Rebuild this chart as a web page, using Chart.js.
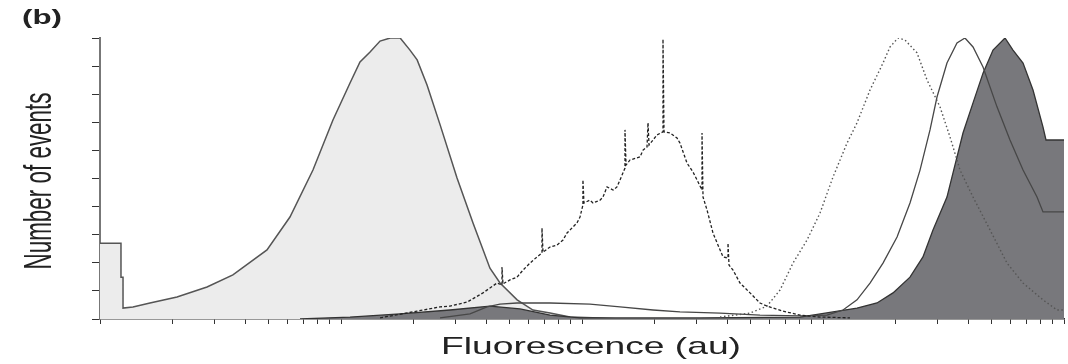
<!DOCTYPE html>
<html>
<head>
<meta charset="utf-8">
<script src="https://cdn.jsdelivr.net/npm/chart.js@4.4.1/dist/chart.umd.min.js"></script>
<style>
	html, body { margin: 0; padding: 0; background: #fff; }
	#wrap { width: 1068px; height: 364px; }
</style>
</head>
<body>
<div id="wrap"><canvas id="fig" width="1068" height="364"></canvas></div>
<script>
// fluorescence (au) on x, number of events (scaled 0-100) on y

// light grey filled histogram
var lightX = [1, 1.222, 1.222, 1.246, 1.246, 1.37, 1.612, 2.087, 2.78, 3.56, 4.93, 6.14, 7.65, 9.26, 10.9, 11.99, 13.2, 14.52, 16.0, 17.6, 19.33, 20.7, 22.75, 25.8, 30.3, 35.3, 41.5, 45.7, 53.8, 62.6, 73.7, 89.2, 118.8, 143.8];
var lightY = [27.0, 27.0, 14.9, 14.9, 3.9, 4.3, 5.7, 7.8, 11.4, 15.7, 24.6, 36.3, 53.0, 70.8, 84.0, 91.5, 95.0, 98.9, 100, 100, 95.7, 92.2, 83.3, 69.0, 50.2, 34.2, 18.1, 12.8, 6.8, 3.2, 2.1, 0.7, 0.4, 0];

// noisy dashed histogram
var spikyX = [14.52, 20.68, 25.76, 28.34, 33.32, 38.83, 44.39, 46.56, 46.56, 47.0, 50.25, 53.75, 56.91, 60.84, 65.06, 68.23, 68.23, 68.89, 73.66, 78.76, 83.41, 86.65, 95.35, 98.1, 100.9, 100.9, 101.9, 107.9, 111.1, 118.8, 122.2, 127.0, 134.5, 139.7, 143.8, 150.8, 150.8, 152.3, 158.2, 174.1, 179.1, 186.1, 187.9, 189.7, 204.8, 216.8, 216.8, 218.9, 231.8, 247.9, 255.0, 272.7, 288.8, 300.1, 314.8, 314.8, 317.8, 330.2, 349.6, 373.8, 384.7, 403.5, 403.5, 407.4, 423.3, 452.5, 497.9, 547.7, 585.6, 682.3, 802.9, 971.8, 1294];
var spikyY = [0.4, 2.8, 4.3, 4.6, 6.0, 9.3, 12.8, 12.1, 18.5, 12.5, 13.9, 14.9, 17.4, 19.9, 22.1, 23.5, 32.4, 23.8, 25.6, 26.3, 28.1, 30.6, 34.2, 36.3, 40.6, 49.5, 41.3, 42.3, 41.3, 42.3, 43.4, 47.0, 45.9, 47.0, 49.5, 53.7, 67.3, 54.8, 56.6, 57.7, 60.1, 61.2, 69.8, 61.9, 65.5, 66.6, 99.6, 66.6, 66.2, 64.4, 62.6, 55.5, 52.3, 49.5, 45.9, 66.2, 43.4, 38.8, 30.6, 24.6, 22.1, 21.7, 27.0, 19.2, 17.4, 12.8, 9.3, 5.7, 4.6, 2.8, 1.4, 0.7, 0.4];

// dotted histogram
var dottedX = [373.8, 497.9, 585.6, 663.1, 750.8, 858.4, 971.8, 1100, 1258, 1384, 1567, 1774, 1897, 2048, 2189, 2455, 2701, 3058, 3365, 3703, 4193, 4932, 5801, 6761, 8183, 9354, 10000];
var dottedY = [0.7, 2.1, 4.6, 10.3, 19.9, 28.1, 37.7, 50.5, 62.6, 69.8, 81.5, 91.1, 96.8, 100, 99.3, 94.7, 85.1, 75.5, 64.8, 53.0, 43.4, 31.7, 19.9, 12.8, 6.8, 3.2, 3.2];

// thin solid histogram
var solidX = [25.76, 34.30, 40.35, 45.68, 53.75, 73.66, 107.9, 143.8, 197.1, 255.0, 373.8, 547.7, 802.9, 1039, 1211, 1384, 1567, 1774, 2029, 2296, 2527, 2780, 2972, 3269, 3597, 3883, 4193, 4613, 5272, 5969, 6761, 7727, 8183, 10000];
var solidY = [0.4, 1.8, 4.3, 5.3, 5.7, 5.7, 5.3, 4.3, 3.2, 2.5, 2.1, 1.4, 1.1, 1.4, 3.2, 6.8, 12.8, 19.9, 29.2, 41.3, 53.0, 67.3, 79.0, 91.1, 98.2, 100, 96.8, 89.7, 75.5, 63.7, 53.0, 43.4, 38.1, 38.1];

// dark grey filled histogram
var darkX = [6.76, 10.90, 17.57, 28.34, 41.53, 55.31, 73.66, 98.1, 308.9, 802.9, 1100, 1384, 1675, 1952, 2296, 2599, 2860, 3269, 3463, 3810, 4193, 4613, 5076, 5691, 6143, 6761, 7437, 8183, 8420, 10000];
var darkY = [0, 0.7, 1.8, 3.2, 4.6, 3.6, 1.4, 0.4, 0.4, 0.7, 2.5, 3.9, 5.7, 9.3, 14.9, 22.1, 31.7, 43.4, 52.0, 66.2, 76.9, 87.5, 95.7, 100, 95.7, 91.1, 81.5, 68.3, 63.7, 63.7];

// axis ticks (no labels drawn)
var xTicks = [1, 2, 3, 4, 5, 6, 7, 8, 9, 10, 20, 30, 40, 50, 60, 70, 80, 90, 100, 200, 300, 400, 500, 600, 700, 800, 900, 1000, 2000, 3000, 4000, 5000, 6000, 7000, 8000, 9000, 10000];
var yTicks = [0, 10, 20, 30, 40, 50, 60, 70, 80, 90, 100];

var panelLabel = '(b)';
var xTitle = 'Fluorescence (au)';
var yTitle = 'Number of events';

function pts(xs, ys) {
	return xs.map(function (x, i) { return { x: x, y: ys[i] }; });
}

// stretched text, the figure was scaled unevenly
function stretchText(ctx, text, font, x, y, rot, targetW) {
	ctx.save();
	ctx.font = font;
	var w = ctx.measureText(text).width;
	ctx.translate(x, y);
	ctx.rotate(rot);
	ctx.scale(targetW / w, 1);
	ctx.textAlign = 'center';
	ctx.textBaseline = 'alphabetic';
	ctx.fillStyle = '#222';
	ctx.fillText(text, 0, 0);
	ctx.restore();
}

var titlesPlugin = {
	id: 'titles',
	afterDraw: function (chart) {
		var ctx = chart.ctx;
		stretchText(ctx, panelLabel, 'bold 21px "Liberation Sans", Arial, sans-serif', 42, 24, 0, 40);
		stretchText(ctx, yTitle, '39px "Liberation Sans", Arial, sans-serif', 51, 181, -Math.PI / 2, 177);
		stretchText(ctx, xTitle, '24px "Liberation Sans", Arial, sans-serif', 591, 354, 0, 300);
	}
};

function line(label, xs, ys, color, dash, width, order) {
	return {
		label: label, data: pts(xs, ys), borderColor: color, borderWidth: width,
		borderDash: dash, pointRadius: 0, tension: 0, fill: false, order: order
	};
}

var lightSet = line('light', lightX, lightY, '#555', [], 1.5, 5);
lightSet.fill = 'origin';
lightSet.backgroundColor = '#ececec';

var darkSet = line('dark', darkX, darkY, '#333', [], 1.3, 4);
darkSet.fill = 'origin';
darkSet.backgroundColor = '#78787c';

new Chart(document.getElementById('fig'), {
	type: 'line',
	data: {
		datasets: [
			line('spiky', spikyX, spikyY, '#222', [3, 2], 1.3, 1),
			line('dotted', dottedX, dottedY, '#555', [1.5, 2.5], 1.4, 2),
			line('solid', solidX, solidY, '#474747', [], 1.3, 3),
			darkSet,
			lightSet
		]
	},
	options: {
		responsive: false,
		animation: false,
		layout: { padding: { top: 38, right: 4, left: 0, bottom: 0 } },
		plugins: { legend: { display: false }, tooltip: { enabled: false } },
		scales: {
			x: {
				type: 'logarithmic', min: 1, max: 10000,
				afterBuildTicks: function (s) { s.ticks = xTicks.map(function (v) { return { value: v }; }); },
				afterFit: function (s) { s.height = 45; },
				ticks: { display: false },
				grid: { drawOnChartArea: false, drawTicks: true, tickLength: 5, color: '#333', lineWidth: 1 },
				border: { color: '#333', width: 1.5 }
			},
			y: {
				type: 'linear', min: 0, max: 100,
				afterBuildTicks: function (s) { s.ticks = yTicks.map(function (v) { return { value: v }; }); },
				afterFit: function (s) { s.width = 100; },
				ticks: { display: false },
				grid: { drawOnChartArea: false, drawTicks: true, tickLength: 8, color: '#333', lineWidth: 1 },
				border: { color: '#777', width: 2 }
			}
		}
	},
	plugins: [titlesPlugin]
});
</script>
</body>
</html>
